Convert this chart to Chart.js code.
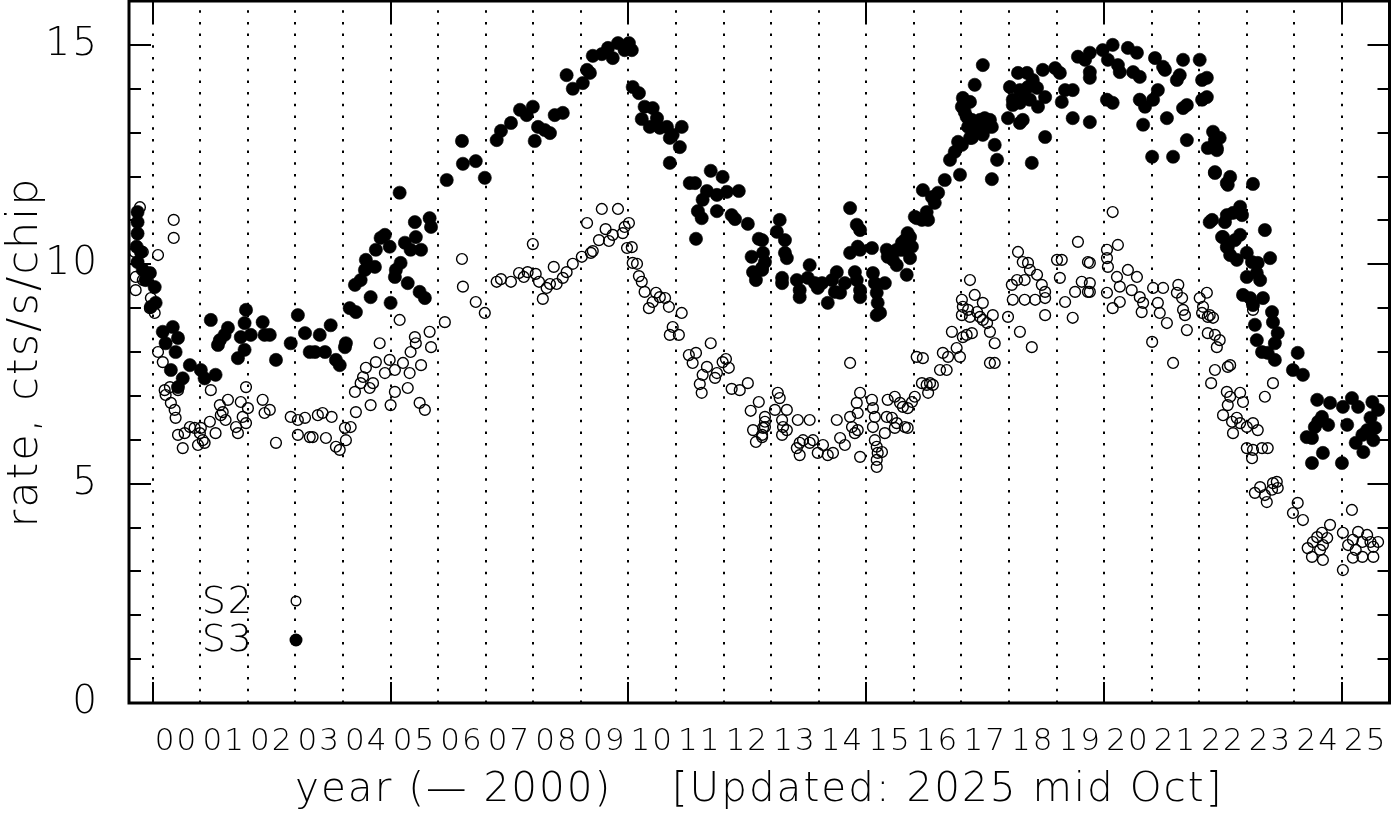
<!DOCTYPE html>
<html><head><meta charset="utf-8">
<script src="https://cdn.jsdelivr.net/npm/chart.js@4.4.1/dist/chart.umd.min.js"></script>
<style>html,body{margin:0;padding:0;background:#fff;overflow:hidden}#wrap{width:1391px;height:815px;position:relative}canvas{display:block}</style>
</head><body><div id="wrap"><canvas id="c" width="1391" height="815"></canvas></div>
<script>
// x = year - 2000
const yearTickLabels = ['00','01','02','03','04','05','06','07','08','09','10','11','12','13','14','15','16','17','18','19','20','21','22','23','24','25'];
const yTickValues = [0,5,10,15];
const xTitle = 'year (\u2014 2000)    [Updated: 2025 mid Oct]';
const yTitle = 'rate, cts/s/chip';
const seriesNames = ['S2','S3'];

const s3Points = [
[-0.32,11.19],[-0.32,10.96],[-0.32,10.7],[-0.34,10.4],[-0.25,10.28],[-0.32,10.05],[-0.21,9.87],[-0.06,9.8],[-0.15,9.64],[0.04,9.48],[0.06,9.12],[-0.04,9.03],[0.21,8.46],[0.42,8.57],[0.53,8.32],[0.27,8.2],[0.48,8.0],[0.38,7.59],[0.63,7.4],[0.53,7.2],[0.78,7.7],[1.01,7.59],[1.09,7.4],[1.32,7.48],[1.22,8.73],[1.41,8.27],[1.58,8.55],[1.51,8.39],[1.37,8.16],[1.79,7.86],[1.93,8.05],[1.85,8.34],[1.93,8.66],[1.96,8.96],[2.06,8.39],[2.31,8.68],[2.35,8.39],[2.46,8.39],[2.59,7.82],[2.90,8.2],[3.05,8.84],[3.20,8.43],[3.30,8.0],[3.41,8.0],[3.51,8.39],[3.62,8.0],[3.74,8.61],[3.85,7.82],[3.93,7.7],[4.04,8.11],[4.06,8.2],[4.14,9.0],[4.27,8.91],[4.25,9.53],[4.37,9.64],[4.46,9.87],[4.48,10.1],[4.58,9.25],[4.67,9.94],[4.69,10.33],[4.79,10.6],[4.88,10.67],[4.98,10.4],[5.00,9.12],[5.09,9.71],[5.11,9.87],[5.21,10.03],[5.30,10.49],[5.36,9.57],[5.42,10.33],[5.53,10.62],[5.51,10.96],[5.64,10.33],[5.61,9.37],[5.72,9.23],[5.82,11.05],[5.85,10.85],[5.19,11.63],
[6.18,11.92],[6.50,12.81],[6.52,12.29],[6.79,12.35],[6.98,11.97],[7.23,12.83],[7.32,13.04],[7.53,13.22],[7.72,13.52],[7.86,13.4],[7.99,13.59],[8.03,12.81],[8.10,13.13],[8.24,13.06],[8.35,12.99],[8.45,13.4],[8.62,13.45],[8.70,14.31],[8.83,14.0],[9.04,14.13],[9.13,14.43],[9.19,14.36],[9.25,14.75],[9.44,14.79],[9.57,14.93],[9.67,14.7],[9.78,15.04],[9.92,14.88],[10.01,15.04],[10.07,14.88],[10.09,14.04],[10.22,13.9],[10.34,13.59],[10.51,13.56],[10.28,13.31],[10.45,13.13],[10.60,13.33],[10.66,13.11],[10.81,13.13],[10.87,12.88],[10.93,12.95],[11.12,13.13],[11.08,12.67],[10.87,12.31],[11.29,11.85],[11.40,11.85],[11.73,12.13],[11.98,11.99],[11.65,11.67],[11.56,11.47],[11.86,11.58],[12.07,11.65],[12.32,11.67],[11.46,11.21],[11.54,11.05],[11.86,11.21],[12.17,11.12],[12.24,11.03],[12.51,10.92],[11.42,10.58],[12.74,10.58],[12.59,10.17],[12.83,10.26],[12.62,9.82],[12.68,9.64],[12.81,9.92],
[12.81,10.55],[12.87,10.05],[12.81,9.87],[13.18,11.01],[13.12,10.74],[13.29,10.55],[13.29,10.26],[13.33,10.14],[13.23,9.69],[13.23,9.57],[13.54,9.64],[13.60,9.41],[13.60,9.25],[13.81,9.98],[13.77,9.69],[13.92,9.57],[13.98,9.46],[14.07,9.57],[14.19,9.12],[14.28,9.64],[14.38,9.82],[14.34,9.37],[14.45,9.35],[14.55,9.57],[14.66,11.28],[14.80,10.9],[14.87,10.78],[14.66,10.26],[14.82,10.4],[14.87,10.33],[14.76,9.82],[14.80,9.64],[14.87,9.41],[14.87,9.25],[15.12,10.37],[15.14,9.8],[15.18,9.57],[15.22,9.35],[15.24,9.12],[15.29,8.89],[15.22,8.84],[15.39,9.57],[15.43,10.33],[15.45,10.17],[15.54,10.26],[15.56,10.1],[15.64,9.98],[15.64,10.33],[15.71,10.33],[15.75,10.49],[15.81,10.55],[15.87,10.71],[15.92,10.14],[15.85,9.76],[15.96,10.4],[15.92,10.62],[15.77,10.33],[16.02,11.08],[16.17,11.01],[16.27,11.19],[16.30,11.01],[16.44,11.4],
[16.06,11.05],[16.19,11.69],[16.38,11.53],[16.51,11.63],[16.65,11.92],[16.76,12.38],[16.86,12.56],[16.97,12.04],[17.01,12.72],[16.93,12.79],[17.03,13.79],[17.01,13.59],[17.07,13.47],[17.11,13.36],[17.18,13.7],[17.22,13.29],[17.14,13.13],[17.22,12.88],[17.33,13.06],[17.39,13.29],[17.49,13.33],[17.60,13.29],[17.56,13.13],[17.45,12.95],[17.64,13.13],[17.70,12.72],[17.75,12.38],[17.64,11.94],[17.28,14.09],[17.45,14.54],[17.18,12.88],[18.02,14.04],[18.08,13.75],[18.19,14.36],[18.38,14.36],[18.23,13.97],[18.40,14.04],[18.50,14.2],[18.59,14.02],[18.33,13.81],[18.08,13.63],[18.23,13.68],[18.44,13.75],[18.61,13.59],[18.76,13.81],[18.71,14.43],[18.97,14.47],[19.07,14.36],[17.98,13.33],[18.23,13.22],[18.29,13.29],[18.76,12.9],[18.48,12.31],[19.11,13.7],[19.18,13.97],[19.34,13.97],[19.34,13.33],[19.45,14.73],[19.60,14.66],[19.70,14.82],[19.70,14.38],[19.70,14.25],[19.70,13.24],[19.97,14.88],[20.08,14.66],[20.18,15.0],[20.29,14.54],[20.33,14.38],[20.06,13.75],[20.18,13.68],[20.50,14.93],[20.69,14.82],[20.61,14.38],[20.75,14.27],[20.75,13.75],[20.86,13.59],[20.82,13.18],[21.07,14.7],[21.24,14.5],[21.28,14.43],[21.13,13.97],[21.03,13.75],[21.01,12.45],[21.32,13.33],[21.45,12.45],[21.66,14.66],[21.53,14.2],[21.59,14.31],[21.66,13.56],[21.74,13.63],[21.74,12.83],[22.01,14.66],[22.06,14.2],[22.16,14.25],[22.06,13.75],[22.16,13.81],[22.29,13.02],[22.43,12.88],[22.27,12.67],[22.37,12.65],[22.33,12.1],[22.58,11.85],[22.27,11.01],[22.54,10.96],[22.50,10.62],[22.58,10.39],
[22.33,12.83],[22.18,12.65],[22.37,12.6],[22.33,12.08],[22.65,11.99],[22.60,11.81],[23.13,11.83],[22.22,10.96],[22.58,11.12],[22.71,11.17],[22.86,11.31],[22.90,11.12],[23.38,10.78],[22.48,10.62],[22.60,10.39],[22.75,10.55],[22.86,10.67],[22.65,10.21],[22.79,10.1],[23.00,10.26],[23.11,10.05],[23.23,10.03],[23.49,10.14],[23.00,9.71],[23.28,9.64],[23.21,9.8],[22.92,9.3],[23.07,9.23],[23.34,9.23],[23.13,9.07],[23.17,8.62],[23.53,8.91],[23.55,8.68],[23.65,8.43],[23.59,8.2],[23.21,8.27],[23.32,8.0],[23.44,7.98],[23.59,7.82],[24.07,7.98],[23.97,7.59],[24.18,7.48],[24.48,6.91],[24.75,6.84],[24.58,6.52],[24.50,6.41],[24.43,6.29],[24.26,6.06],[24.37,6.04],[24.71,6.34],[24.60,5.7],[24.37,5.47],[25.02,6.75],[25.21,6.95],[25.34,6.75],[25.11,6.34],[25.00,5.47],[25.64,6.86],[25.76,6.68],[25.60,6.5],[25.70,6.27],[25.53,6.22],[25.43,6.11],[25.29,5.93],[25.45,5.72],[25.66,5.99]
];

const s2Points = [
[-0.27,11.3],[-0.38,10.28],[-0.32,10.05],[-0.21,10.28],[-0.36,9.71],[-0.21,9.64],[-0.36,9.41],[-0.04,9.23],[-0.06,9.0],[0.04,8.89],[0.11,10.21],[0.44,11.01],[0.44,10.6],[0.11,8.0],[0.21,7.77],[0.25,7.13],[0.27,7.02],[0.38,6.84],[0.46,6.68],[0.48,6.5],[0.36,7.2],[0.53,7.13],[0.53,6.11],[0.63,5.81],[0.67,6.15],[0.78,6.29],[0.88,6.27],[0.95,5.88],[0.99,6.15],[1.05,5.99],[1.09,5.93],[1.01,6.27],[1.20,6.41],[1.22,7.13],[1.32,6.15],[1.41,6.79],[1.47,6.63],[1.58,6.91],[1.53,6.45],[1.43,6.56],[1.75,6.29],[1.79,6.15],[1.85,6.86],[1.89,6.52],[1.96,6.38],[1.96,7.2],[2.00,6.72],[2.31,6.91],[2.35,6.61],[2.46,6.68],[2.59,5.93],[2.90,6.52],[3.05,6.45],[3.20,6.5],[3.05,6.11],[3.30,6.06],[3.36,6.06],[3.47,6.56],[3.57,6.61],[3.64,6.04],[3.76,6.52],[3.85,5.84],[3.93,5.77],[4.06,5.99],[4.04,6.27],[4.16,6.29],[4.25,7.09],[4.27,6.63],[4.37,7.29],[4.42,7.43],[4.48,7.64],[4.56,7.18],[4.63,7.29],[4.58,6.79],[4.69,7.77],[4.77,8.2],[4.88,7.52],[4.98,7.82],[5.00,6.79],[5.09,7.09],[5.09,7.59],[5.19,8.73],[5.26,7.75],[5.36,7.18],[5.40,7.52],[5.42,8.0],[5.51,8.34],[5.53,8.2],[5.64,7.7],[5.61,6.84],[5.72,6.68],[5.82,8.46],[5.85,8.11],[6.14,8.68],
[6.50,10.12],[6.52,9.49],[6.79,9.14],[6.98,8.89],[7.23,9.6],[7.32,9.66],[7.53,9.6],[7.70,9.8],[7.80,9.71],[7.88,9.82],[7.99,10.46],[8.05,9.78],[8.12,9.6],[8.20,9.21],[8.28,9.46],[8.35,9.55],[8.43,9.94],[8.49,9.55],[8.62,9.69],[8.70,9.82],[8.83,10.01],[9.02,10.17],[9.13,10.94],[9.21,10.26],[9.25,10.3],[9.38,10.55],[9.44,11.26],[9.52,10.8],[9.59,10.53],[9.67,10.67],[9.78,11.26],[9.88,10.71],[9.92,10.85],[10.01,10.94],[9.97,10.37],[10.07,10.39],[10.09,10.03],[10.18,10.01],[10.22,9.73],[10.28,9.6],[10.34,9.37],[10.43,9.0],[10.51,9.14],[10.58,9.35],[10.66,9.25],[10.77,9.23],[10.85,9.03],[10.93,8.57],[10.87,8.39],[11.06,8.39],[11.12,8.89],[11.27,7.93],[11.42,7.98],[11.35,7.75],[11.73,8.2],[11.50,7.27],[11.54,7.07],[11.56,7.48],[11.65,7.66],[11.82,7.41],[11.86,7.52],[11.98,7.77],[12.05,7.84],[12.11,7.64],[12.17,7.16],[12.34,7.13],[12.51,7.29],[12.74,6.86],[12.57,6.66],[12.62,6.22],[12.68,5.95],[12.81,6.11],[12.87,6.41],[12.87,6.29],
[12.87,6.52],[12.83,6.27],[12.81,6.06],[13.14,7.07],[13.18,6.95],[13.08,6.68],[13.33,6.68],[13.23,6.45],[13.25,6.29],[13.33,6.22],[13.23,6.11],[13.56,6.45],[13.81,6.45],[13.54,5.81],[13.60,5.93],[13.67,5.99],[13.60,5.65],[13.81,5.93],[13.88,5.99],[13.98,5.7],[14.09,5.88],[14.19,5.65],[14.30,5.7],[14.38,6.45],[14.45,6.04],[14.55,5.88],[14.66,7.75],[14.66,6.52],[14.70,6.29],[14.76,6.15],[14.80,6.84],[14.87,7.07],[14.82,6.61],[14.82,6.22],[14.87,5.61],[15.12,6.91],[15.14,6.72],[15.18,6.52],[15.14,6.29],[15.18,5.99],[15.22,5.84],[15.24,5.7],[15.22,5.54],[15.22,5.38],[15.33,5.72],[15.39,6.15],[15.45,6.91],[15.60,6.98],[15.43,6.52],[15.54,6.5],[15.64,6.38],[15.60,6.27],[15.71,6.84],[15.77,6.75],[15.81,6.29],[15.87,6.27],[15.87,6.72],[15.96,6.86],[16.02,6.98],[16.17,7.29],[16.06,7.89],[16.19,7.86],[16.27,7.25],[16.34,7.29],[16.40,7.25],[16.30,7.07],[16.55,7.59],[16.69,7.59],[16.61,7.98],[16.72,7.89],[16.80,8.46],[16.90,8.09],[16.97,7.89],[17.01,9.19],[17.03,9.03],[17.01,8.84],[17.03,8.34],[17.11,8.39],[17.18,9.64],[17.14,8.96],[17.18,8.8],[17.22,8.43],[17.28,9.3],[17.33,8.91],[17.39,8.8],[17.45,9.12],[17.45,8.73],[17.54,8.66],[17.60,8.46],[17.66,8.84],[17.70,8.2],[17.60,7.75],[17.70,7.75],[17.98,8.8],[18.06,9.53],[18.08,9.19],[18.19,10.28],[18.17,9.64],[18.23,8.46],[18.29,10.05],[18.33,9.64],[18.33,9.19],[18.40,10.03],[18.44,9.87],[18.48,8.11],[18.55,9.19],[18.59,9.76],[18.69,9.53],[18.76,9.37],[18.76,8.84],[18.76,9.23],[19.01,10.1],[19.11,10.1],[19.07,9.69],[19.18,9.14],[19.34,8.78],[19.39,9.37],[19.45,10.51],[19.53,9.6],[19.66,10.05],[19.66,9.37],
[20.18,11.19],[20.29,10.44],[20.06,10.33],[20.06,10.14],[20.08,9.94],[19.70,10.03],[20.50,9.87],[20.69,9.71],[20.27,9.71],[19.70,9.57],[19.70,9.37],[20.06,9.35],[20.33,9.49],[20.33,9.14],[20.18,9.0],[20.58,9.41],[20.75,9.25],[20.82,9.12],[20.79,8.91],[21.03,9.46],[21.24,9.46],[21.13,9.12],[21.17,8.89],[21.32,8.66],[21.01,8.23],[21.56,9.53],[21.53,9.35],[21.64,9.23],[21.66,8.96],[21.70,8.84],[21.74,8.5],[22.01,9.23],[22.16,9.35],[22.08,9.03],[22.06,8.89],[22.22,8.84],[22.29,8.78],[22.18,8.43],[22.33,8.39],[22.43,8.27],
[21.45,7.75],[22.18,8.8],[22.37,8.11],[22.65,7.7],[22.60,7.66],[22.33,7.59],[22.25,7.29],[22.58,7.09],[22.65,6.98],[22.86,7.07],[22.92,6.86],[22.60,6.79],[22.50,6.56],[22.69,6.41],[22.71,6.15],[22.79,6.5],[22.86,6.38],[23.00,6.29],[23.13,6.38],[23.23,6.22],[23.13,8.96],[23.38,6.98],[23.55,7.29],[23.00,5.81],[23.13,5.77],[23.11,5.58],[23.32,5.81],[23.44,5.81],[23.17,4.79],[23.28,4.92],[23.38,4.74],[23.42,4.58],[23.55,5.01],[23.63,5.04],[23.65,4.9],[23.53,4.86],[24.07,4.56],[23.97,4.33],[24.18,4.17],[24.28,3.53],[24.39,3.67],[24.48,3.78],[24.54,3.49],[24.37,3.33],[24.60,3.6],[24.60,3.26],[24.69,3.76],[24.75,4.06],[24.58,3.88],[25.02,3.88],[25.21,4.4],[25.13,3.6],[25.23,3.72],[25.34,3.9],[25.43,3.67],[25.29,3.49],[25.23,3.31],[25.43,3.33],[25.53,3.83],[25.60,3.67],[25.66,3.56],[25.76,3.67],[25.66,3.33],[25.02,3.03]
];

const FONT = '"DejaVu Sans", sans-serif';
const WEIGHT = '200';

const zeroPad = s => { s.paddingTop = 0; s.paddingBottom = 0; s.paddingLeft = 0; s.paddingRight = 0; };

const framePlugin = {
  id: 'frame',
  beforeDraw(chart) {
    chart.ctx.letterSpacing = '2px';
  },
  beforeDatasetsDraw(chart) {
    const {ctx, chartArea: a, scales: {x}} = chart;
    ctx.save();
    ctx.strokeStyle = '#000';
    ctx.lineWidth = 2;
    ctx.setLineDash([2.5, 9.2]);
    for (let yr = 0; yr <= 25; yr++) {
      const px = Math.round(x.getPixelForValue(yr));
      ctx.beginPath();
      ctx.moveTo(px, a.bottom);
      ctx.lineTo(px, a.top);
      ctx.stroke();
    }
    ctx.restore();
  },
  afterDatasetsDraw(chart) {
    const {ctx, chartArea: a, scales: {x, y}} = chart;
    ctx.save();
    ctx.strokeStyle = '#000';
    ctx.setLineDash([]);
    ctx.lineWidth = 2;
    for (let yr = 0; yr <= 25; yr += 5) {
      const px = Math.round(x.getPixelForValue(yr));
      ctx.beginPath();
      ctx.moveTo(px, a.bottom); ctx.lineTo(px, a.bottom - 21);
      ctx.moveTo(px, a.top); ctx.lineTo(px, a.top + 21);
      ctx.stroke();
    }
    for (let v = 1; v <= 15; v++) {
      const py = Math.round(y.getPixelForValue(v));
      const len = (v % 5 === 0) ? 22 : 12;
      ctx.beginPath();
      ctx.moveTo(a.left, py); ctx.lineTo(a.left + len, py);
      ctx.moveTo(a.right, py); ctx.lineTo(a.right - len, py);
      ctx.stroke();
    }
    ctx.lineWidth = 3;
    ctx.strokeRect(a.left, a.top, a.right - a.left, a.bottom - a.top);
    // legend
    ctx.fillStyle = '#000';
    ctx.font = WEIGHT + ' 38px ' + FONT;
    ctx.textAlign = 'right';
    ctx.textBaseline = 'middle';
    const lx = a.left + 125, mx = a.left + 167;
    ctx.fillText(seriesNames[0], lx, 603);
    ctx.fillText(seriesNames[1], lx, 641);
    ctx.lineWidth = 1.4;
    ctx.beginPath(); ctx.arc(mx, 601, 4.8, 0, Math.PI * 2); ctx.stroke();
    ctx.beginPath(); ctx.arc(mx, 640, 6.5, 0, Math.PI * 2); ctx.fill();
    ctx.restore();
  }
};

const toXY = arr => arr.map(p => ({x: p[0], y: p[1]}));

new Chart(document.getElementById('c'), {
  type: 'scatter',
  data: {
    datasets: [
      { label: seriesNames[0], data: toXY(s2Points), pointRadius: 5.4, pointBorderWidth: 1.4,
        borderColor: '#000', backgroundColor: 'rgba(0,0,0,0)', pointStyle: 'circle' },
      { label: seriesNames[1], data: toXY(s3Points), pointRadius: 6.6, pointBorderWidth: 0.6,
        borderColor: '#000', backgroundColor: '#000', pointStyle: 'circle' }
    ]
  },
  options: {
    responsive: false,
    animation: false,
    devicePixelRatio: 1,
    layout: { autoPadding: false, padding: { top: 1, right: 1.5, left: 0, bottom: 0 } },
    plugins: { legend: { display: false }, tooltip: { enabled: false } },
    scales: {
      x: {
        type: 'linear', min: -0.5, max: 26,
        afterBuildTicks: s => { s.ticks = yearTickLabels.map((l, i) => ({ value: i + 0.5 })); },
        afterFit: s => { s.height = 112; zeroPad(s); },
        ticks: {
          autoSkip: false, maxRotation: 0, minRotation: 0, padding: 20, color: '#000',
          font: { family: FONT, size: 31, weight: WEIGHT },
          callback: v => yearTickLabels[Math.round(v - 0.5)]
        },
        grid: { display: false, drawTicks: false },
        border: { display: false },
        title: { display: true, text: xTitle, color: '#000',
          font: { family: FONT, size: 40.5, weight: WEIGHT }, padding: { top: 0, bottom: 0 } }
      },
      y: {
        type: 'linear', min: 0, max: 16,
        afterBuildTicks: s => { s.ticks = yTickValues.map(v => ({ value: v })); },
        afterFit: s => { s.width = 129; zeroPad(s); },
        ticks: { padding: 30, color: '#000', font: { family: FONT, size: 39, weight: WEIGHT } },
        grid: { display: false, drawTicks: false },
        border: { display: false },
        title: { display: true, text: yTitle, color: '#000',
          font: { family: FONT, size: 43, weight: WEIGHT }, padding: { top: 0, bottom: 0 } }
      }
    }
  },
  plugins: [framePlugin]
});
</script>
</body></html>
